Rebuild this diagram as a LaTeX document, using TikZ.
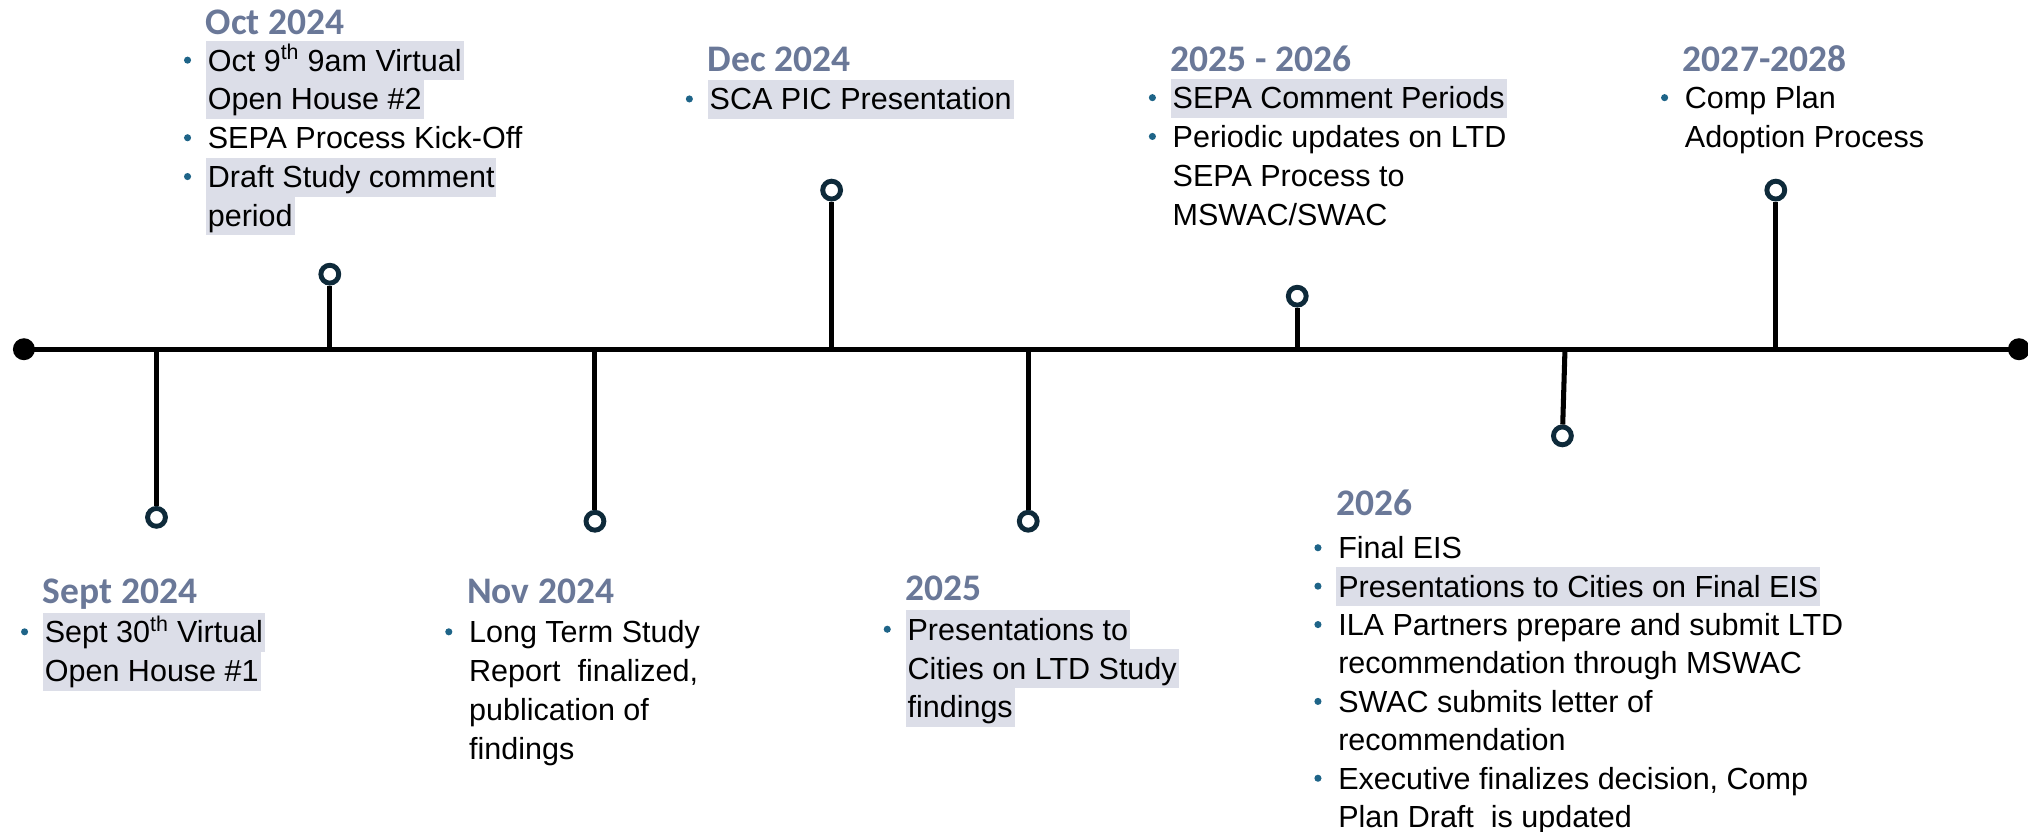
\documentclass[tikz,border=0pt]{standalone}
\usepackage{fontspec}
\setmainfont{Liberation Sans}
\newfontfamily\headfam{Carlito}

\definecolor{headblue}{HTML}{6A7898}
\definecolor{bulletblue}{HTML}{1E6488}
\definecolor{hlfill}{HTML}{DCDEE8}
\definecolor{ringnavy}{HTML}{0E2A3A}

\newcommand\bodysize{\fontsize{23.6}{30}\selectfont}
\newcommand\headsize{\headfam\bfseries\fontsize{29}{32}\selectfont}
% bullet placed just left of a text line node
\newcommand\bulletfor[1]{\node[bul] (#1-dot) at ([xshift=-14pt,yshift=8.5pt]#1.base west) {};}

\tikzset{
  txt/.style={anchor=base west, inner xsep=1.5pt, inner ysep=0pt,
              text height=23pt, text depth=7pt, font=\bodysize, text=black},
  hl/.style={txt, fill=hlfill},
  head/.style={anchor=base west, inner sep=0pt, font=\headsize, text=headblue},
  bul/.style={circle, fill=bulletblue, inner sep=0pt, minimum size=5.5pt},
  ring/.style={circle, draw=ringnavy, line width=3.8pt, fill=white, inner sep=0pt, minimum size=13.8pt},
  enddot/.style={circle, fill=black, inner sep=0pt, minimum size=17pt},
  axis/.style={line width=4.2pt, black},
  stem/.style={line width=3.9pt, black},
}

\begin{document}
\begin{tikzpicture}[x=1pt,y=-1pt]
\useasboundingbox (0,0) rectangle (1568,643);

% time axis
\node[enddot] (axL) at (18.5,270) {};
\node[enddot] (axR) at (1561,270) {};
\draw[axis] (axL.center) -- (axR.center);

% milestone stems and rings
\coordinate (s1) at (121,270);  \node[ring] (r1) at (121,400) {};
\coordinate (s2) at (255,270);  \node[ring] (r2) at (255,212) {};
\coordinate (s3) at (460,270);  \node[ring] (r3) at (460,403) {};
\coordinate (s4) at (643,270);  \node[ring] (r4) at (643,147) {};
\coordinate (s5) at (795,270);  \node[ring] (r5) at (795,403) {};
\coordinate (s6) at (1003,270); \node[ring] (r6) at (1003,229) {};
\coordinate (s7) at (1210,270); \node[ring] (r7) at (1208,337) {};
\coordinate (s8) at (1373,270); \node[ring] (r8) at (1373,147) {};
\foreach \i in {1,...,8} { \draw[stem] (s\i) -- (r\i); }

% Oct 2024
\node[head] (oct-h) at (159,26.5) {Oct 2024};
\node[hl]  (oct-1) at (159,55)  {Oct 9\textsuperscript{th} 9am Virtual\ }; \bulletfor{oct-1}
\node[hl]  (oct-2) at (159,85)  {Open House \#2};
\node[txt] (oct-3) at (159,115) {SEPA Process Kick-Off}; \bulletfor{oct-3}
\node[hl]  (oct-4) at (159,145) {Draft Study comment\ }; \bulletfor{oct-4}
\node[hl]  (oct-5) at (159,175) {period};

% Dec 2024
\node[head] (dec-h) at (547,55.5) {Dec 2024};
\node[hl]  (dec-1) at (547,85) {SCA PIC Presentation}; \bulletfor{dec-1}

% 2025 - 2026
\node[head] (mid-h) at (905,55.5) {2025 - 2026};
\node[hl]  (mid-1) at (905,84)  {SEPA Comment Periods}; \bulletfor{mid-1}
\node[txt] (mid-2) at (905,114) {Periodic updates on LTD}; \bulletfor{mid-2}
\node[txt] (mid-3) at (905,144) {SEPA Process to};
\node[txt] (mid-4) at (905,174) {MSWAC/SWAC};

% 2027-2028
\node[head] (late-h) at (1301,55.5) {2027-2028};
\node[txt] (late-1) at (1301,84)  {Comp Plan}; \bulletfor{late-1}
\node[txt] (late-2) at (1301,114) {Adoption Process};

% Sept 2024
\node[head] (sep-h) at (33,466.5) {Sept 2024};
\node[hl]  (sep-1) at (33,497) {Sept 30\textsuperscript{th} Virtual\ }; \bulletfor{sep-1}
\node[hl]  (sep-2) at (33,527) {Open House \#1};

% Nov 2024
\node[head] (nov-h) at (361,466.5) {Nov 2024};
\node[txt] (nov-1) at (361,497) {Long Term Study}; \bulletfor{nov-1}
\node[txt] (nov-2) at (361,527) {Report\ \ finalized,};
\node[txt] (nov-3) at (361,557) {publication of};
\node[txt] (nov-4) at (361,587) {findings};

% 2025
\node[head] (y25-h) at (700,464.5) {2025};
\node[hl]  (y25-1) at (700,495) {Presentations to\ }; \bulletfor{y25-1}
\node[hl]  (y25-2) at (700,525) {Cities on LTD Study\ };
\node[hl]  (y25-3) at (700,555) {findings};

% 2026
\node[head] (y26-h) at (1033,398.5) {2026};
\node[txt] (y26-1) at (1033,432) {Final EIS}; \bulletfor{y26-1}
\node[hl]  (y26-2) at (1033,461.7) {Presentations to Cities on Final EIS}; \bulletfor{y26-2}
\node[txt] (y26-3) at (1033,491.4) {ILA Partners prepare and submit LTD}; \bulletfor{y26-3}
\node[txt] (y26-4) at (1033,521.1) {recommendation through MSWAC};
\node[txt] (y26-5) at (1033,550.8) {SWAC submits letter of}; \bulletfor{y26-5}
\node[txt] (y26-6) at (1033,580.5) {recommendation};
\node[txt] (y26-7) at (1033,610.2) {Executive finalizes decision, Comp}; \bulletfor{y26-7}
\node[txt] (y26-8) at (1033,639.9) {Plan Draft\ \ is updated};
\end{tikzpicture}
\end{document}
